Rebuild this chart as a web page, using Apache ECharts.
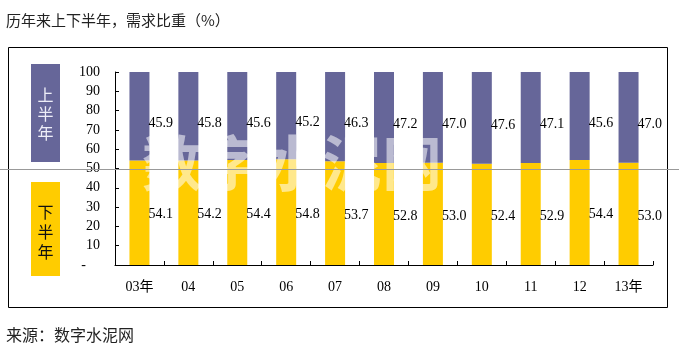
<!DOCTYPE html>
<html>
<head>
<meta charset="utf-8">
<script src="https://cdn.jsdelivr.net/npm/echarts@6/dist/echarts.min.js"></script>
<style>
html,body{margin:0;padding:0;background:#fff;}
#c{width:679px;height:355px;}
</style>
</head>
<body>
<div id="c"></div>
<script>
const categories = ['03年','04','05','06','07','08','09','10','11','12','13年'];
const firstHalf = [45.9,45.8,45.6,45.2,46.3,47.2,47.0,47.6,47.1,45.6,47.0];
const secondHalf = [54.1,54.2,54.4,54.8,53.7,52.8,53.0,52.4,52.9,54.4,53.0];
const yTicks = [0,10,20,30,40,50,60,70,80,90,100];

const serif = '"Liberation Serif","Noto Sans CJK SC",serif';
const cjk = '"Noto Sans CJK SC",sans-serif';

const chart = echarts.init(document.getElementById('c'), null, {renderer:'canvas'});
chart.setOption({
  backgroundColor:'#fff',
  animation:false,
  grid:{left:115,right:26,top:72,bottom:90,containLabel:false},
  xAxis:{
    type:'category',
    data:categories,
    boundaryGap:true,
    axisLine:{lineStyle:{color:'#000',width:1}},
    axisTick:{show:true,inside:true,length:4,lineStyle:{color:'#000'}},
    axisLabel:{color:'#000',fontFamily:serif,fontSize:14,margin:15}
  },
  yAxis:{
    type:'value',min:yTicks[0],max:yTicks[yTicks.length-1],interval:10,
    axisLine:{show:true,lineStyle:{color:'#000',width:1}},
    axisTick:{show:true,inside:true,length:4,lineStyle:{color:'#000'}},
    splitLine:{show:false},
    axisLabel:{color:'#000',fontFamily:serif,fontSize:14,margin:15,
      formatter:v=> v===0 ? '-    ' : String(v)}
  },
  series:[
    {
      name:'下半年',type:'bar',stack:'t',data:secondHalf,barWidth:20,
      itemStyle:{color:'#FFCC00'},
      label:{show:true,position:'right',distance:0,offset:[-1,2],color:'#000',fontFamily:serif,fontSize:14,
        formatter:p=>p.value.toFixed(1)}
    },
    {
      name:'上半年',type:'bar',stack:'t',data:firstHalf,barWidth:20,
      itemStyle:{color:'#666699'},
      label:{show:true,position:'right',distance:0,offset:[-1,7],color:'#000',fontFamily:serif,fontSize:14,
        formatter:p=>p.value.toFixed(1)}
    }
  ],
  graphic:[
    {type:'text',left:6,top:13,style:{text:'历年来上下半年，需求比重（%）',font:'15px '+cjk,fill:'#222'}},
    {type:'rect',shape:{x:8.5,y:47.5,width:659,height:260},style:{fill:'none',stroke:'#000',lineWidth:1},z:1},
    {type:'rect',shape:{x:31,y:64,width:29,height:98},style:{fill:'#666699'},z:2},
    {type:'text',x:45.5,y:114,style:{text:'上\n半\n年',font:'16px '+cjk,fill:'#eeeef8',align:'center',verticalAlign:'middle',lineHeight:19},z:3},
    {type:'rect',shape:{x:31,y:182,width:29,height:94},style:{fill:'#FFCC00'},z:2},
    {type:'text',x:45.5,y:232,style:{text:'下\n半\n年',font:'16px '+cjk,fill:'#111',align:'center',verticalAlign:'middle',lineHeight:20},z:3},
    {type:'text',x:292,y:163,style:{text:'数字水泥网',font:'bold 60px '+cjk,fill:'rgba(255,255,255,0.55)',align:'center',verticalAlign:'middle'},z:50},
    {type:'line',shape:{x1:0,y1:169.5,x2:679,y2:169.5},style:{stroke:'#999',lineWidth:1},z:60},
    {type:'text',left:6,top:327,style:{text:'来源：数字水泥网',font:'16px '+cjk,fill:'#222'}}
  ]
});
</script>
</body>
</html>
